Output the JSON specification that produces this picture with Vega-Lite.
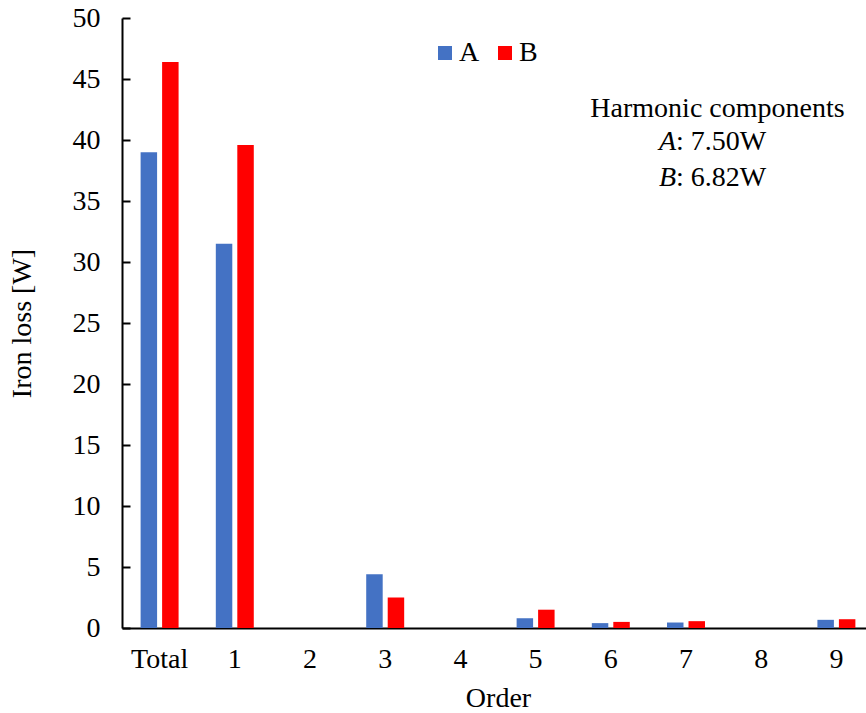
{
  "$schema": "https://vega.github.io/schema/vega-lite/v6.json",
  "width": 744,
  "height": 610,
  "autosize": {"type": "none"},
  "padding": {"left": 122, "top": 18, "right": 0, "bottom": 85},
  "background": "white",
  "config": {
    "view": {"stroke": null},
    "font": "Liberation Serif",
    "text": {"font": "Liberation Serif", "fontWeight": "normal"},
    "axis": {
      "grid": false,
      "domainColor": "black",
      "domainWidth": 2,
      "tickColor": "black",
      "tickWidth": 2,
      "labelColor": "black",
      "labelFont": "Liberation Serif",
      "labelFontSize": 28,
      "titleColor": "black",
      "titleFont": "Liberation Serif",
      "titleFontSize": 28,
      "titleFontWeight": "normal"
    },
    "legend": {
      "labelFont": "Liberation Serif",
      "labelFontSize": 28,
      "labelColor": "black"
    }
  },
  "datasets": {
    "losses": [
      {"order": "Total", "series": "A", "loss": 39.0},
      {"order": "Total", "series": "B", "loss": 46.4},
      {"order": "1", "series": "A", "loss": 31.5},
      {"order": "1", "series": "B", "loss": 39.6},
      {"order": "2", "series": "A", "loss": 0},
      {"order": "2", "series": "B", "loss": 0},
      {"order": "3", "series": "A", "loss": 4.4},
      {"order": "3", "series": "B", "loss": 2.5},
      {"order": "4", "series": "A", "loss": 0},
      {"order": "4", "series": "B", "loss": 0},
      {"order": "5", "series": "A", "loss": 0.8},
      {"order": "5", "series": "B", "loss": 1.5},
      {"order": "6", "series": "A", "loss": 0.4},
      {"order": "6", "series": "B", "loss": 0.5},
      {"order": "7", "series": "A", "loss": 0.45},
      {"order": "7", "series": "B", "loss": 0.56},
      {"order": "8", "series": "A", "loss": 0},
      {"order": "8", "series": "B", "loss": 0},
      {"order": "9", "series": "A", "loss": 0.67},
      {"order": "9", "series": "B", "loss": 0.72}
    ],
    "heading": [{"note": "Harmonic components"}],
    "letterA": [{"note": "A"}],
    "valueA": [{"note": ": 7.50W"}],
    "letterB": [{"note": "B"}],
    "valueB": [{"note": ": 6.82W"}]
  },
  "layer": [
    {
      "data": {"name": "losses"},
      "mark": {"type": "bar"},
      "encoding": {
        "x": {
          "field": "order",
          "type": "nominal",
          "title": "Order",
          "scale": {
            "domain": ["Total", "1", "2", "3", "4", "5", "6", "7", "8", "9"],
            "range": [0, 752],
            "paddingInner": 0.495,
            "paddingOuter": 0.2475
          },
          "axis": {"ticks": false, "labelAngle": 0, "labelPadding": 17, "titlePadding": 11}
        },
        "y": {
          "field": "loss",
          "type": "quantitative",
          "title": "Iron loss [W]",
          "scale": {"domain": [0, 50], "nice": false},
          "axis": {
            "values": [0, 5, 10, 15, 20, 25, 30, 35, 40, 45, 50],
            "tickSize": -8,
            "labelPadding": 30,
            "titlePadding": 36
          }
        },
        "xOffset": {
          "field": "series",
          "scale": {"paddingInner": 0.233, "paddingOuter": 0}
        },
        "color": {
          "field": "series",
          "type": "nominal",
          "scale": {"domain": ["A", "B"], "range": ["#4472C4", "#FF0000"]},
          "legend": {
            "title": null,
            "orient": "none",
            "legendX": 309,
            "legendY": 21,
            "direction": "horizontal",
            "symbolType": "square",
            "symbolSize": 196,
            "symbolStrokeWidth": 0,
            "labelOffset": 0,
            "columnPadding": 11,
            "padding": 0
          }
        }
      }
    },
    {
      "data": {"name": "heading"},
      "mark": {"type": "text", "align": "center", "baseline": "alphabetic", "fontSize": 28, "dx": 12.5, "color": "black"},
      "encoding": {
        "x": {"datum": "7", "type": "nominal", "bandPosition": 1},
        "y": {"datum": 41.9, "type": "quantitative"},
        "text": {"field": "note", "type": "nominal"}
      }
    },
    {
      "data": {"name": "letterA"},
      "mark": {"type": "text", "align": "right", "baseline": "alphabetic", "fontSize": 28, "fontStyle": "italic", "dx": -29, "color": "black"},
      "encoding": {
        "x": {"datum": "7", "type": "nominal", "bandPosition": 1},
        "y": {"datum": 39.2, "type": "quantitative"},
        "text": {"field": "note", "type": "nominal"}
      }
    },
    {
      "data": {"name": "valueA"},
      "mark": {"type": "text", "align": "left", "baseline": "alphabetic", "fontSize": 28, "dx": -29, "color": "black"},
      "encoding": {
        "x": {"datum": "7", "type": "nominal", "bandPosition": 1},
        "y": {"datum": 39.2, "type": "quantitative"},
        "text": {"field": "note", "type": "nominal"}
      }
    },
    {
      "data": {"name": "letterB"},
      "mark": {"type": "text", "align": "right", "baseline": "alphabetic", "fontSize": 28, "fontStyle": "italic", "dx": -29, "color": "black"},
      "encoding": {
        "x": {"datum": "7", "type": "nominal", "bandPosition": 1},
        "y": {"datum": 36.2, "type": "quantitative"},
        "text": {"field": "note", "type": "nominal"}
      }
    },
    {
      "data": {"name": "valueB"},
      "mark": {"type": "text", "align": "left", "baseline": "alphabetic", "fontSize": 28, "dx": -29, "color": "black"},
      "encoding": {
        "x": {"datum": "7", "type": "nominal", "bandPosition": 1},
        "y": {"datum": 36.2, "type": "quantitative"},
        "text": {"field": "note", "type": "nominal"}
      }
    }
  ]
}
